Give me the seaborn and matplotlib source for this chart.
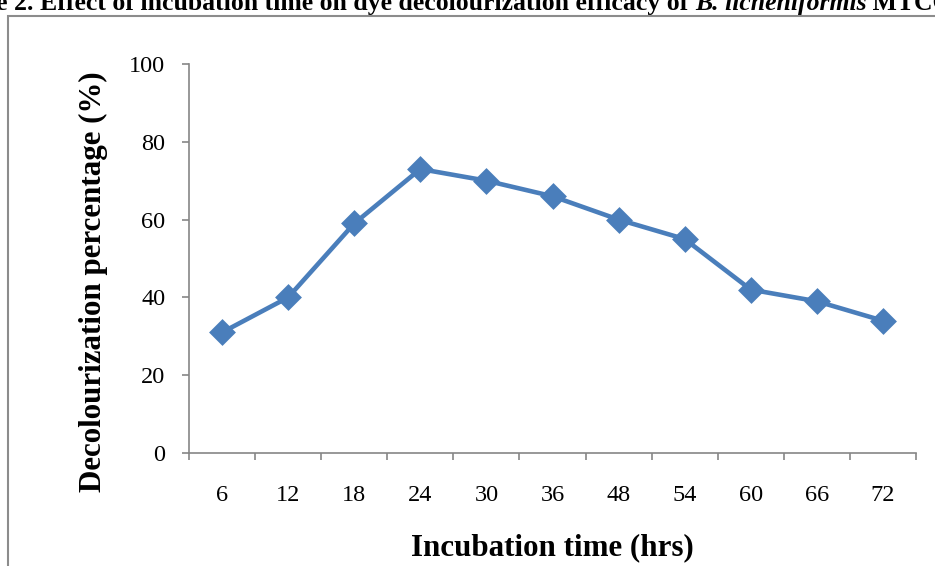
import matplotlib
matplotlib.use("Agg")
import matplotlib.pyplot as plt
import seaborn as sns
import pandas as pd
import numpy as np
from matplotlib.patches import Rectangle

# ---- data ----
hours = ["6", "12", "18", "24", "30", "36", "48", "54", "60", "66", "72"]
decolourization = [31, 40, 59, 73, 70, 66, 60, 55, 42, 39, 34]
y_ticks = [0, 20, 40, 60, 80, 100]

title_head = "Figure 2. "
title_main = "Effect of incubation time on dye decolourization efficacy of "
title_species = "B. licheniformis"
title_tail = " MTCC"
x_label = "Incubation time (hrs)"
y_label = "Decolourization percentage (%)"

sns.set_theme(style="white")
plt.rcParams['font.family'] = ['Liberation Serif', 'DejaVu Serif']

W, H = 935, 566
fig = plt.figure(figsize=(W / 100, H / 100), dpi=100)
ax = fig.add_axes([189 / W, 1 - 453 / H, (916 - 189) / W, (453 - 64) / H])

df = pd.DataFrame({"hours": hours, "value": decolourization})
line_color = "#4A7EBB"
sns.pointplot(data=df, x="hours", y="value", order=hours, color=line_color,
              markers="D", linestyles="-", markersize=11, linewidth=3.3, ax=ax,
              errorbar=None)

ax.set_xlim(-0.5, len(hours) - 0.5)
ax.set_ylim(0, 100)
ax.set_yticks(y_ticks)

grey = "#868686"
for side in ["top", "right"]:
    ax.spines[side].set_visible(False)
for side in ["left", "bottom"]:
    ax.spines[side].set_color(grey)
    ax.spines[side].set_linewidth(1.2)

ax.tick_params(axis="y", which="major", direction="out", length=5, width=1.2,
               color=grey, labelsize=17.5, pad=12, left=True, labelcolor="black")
ax.tick_params(axis="x", which="major", length=0, labelsize=17.5, pad=23,
               labelcolor="black")
ax.set_xticks(np.arange(-0.5, len(hours) + 0.5, 1), minor=True)
ax.tick_params(axis="x", which="minor", direction="out", length=5, width=1.2,
               color=grey, bottom=True)
ax.grid(False)

ax.set_xlabel(x_label, fontsize=22.3, fontweight="bold", color="black")
ax.set_ylabel(y_label, fontsize=22.3, fontweight="bold", color="black")
ax.xaxis.set_label_coords(0.5, -0.205)
ax.yaxis.set_label_coords(-0.112, 0.44)

# outer border (partially cropped)
fig.add_artist(Rectangle((8 / W, -0.1), 1.2, 1 - 16 / H + 0.1,
                         transform=fig.transFigure, fill=False,
                         edgecolor="#8c8c8c", linewidth=1.5, clip_on=False))

# cropped title
tsize = 18.5
t0 = fig.text(40 / W, 1 - 10 / H, title_head, ha="right", va="baseline",
              fontsize=tsize, fontweight="bold", color="black")
t1 = ax.annotate(title_main, xy=(1, 0), xycoords=t0, va="bottom", ha="left",
                 fontsize=tsize, fontweight="bold", color="black",
                 annotation_clip=False)
t2 = ax.annotate(title_species, xy=(1, 0), xycoords=t1, va="bottom", ha="left",
                 fontsize=tsize, fontweight="bold", fontstyle="italic",
                 color="black", annotation_clip=False)
t3 = ax.annotate(title_tail, xy=(1, 0), xycoords=t2, va="bottom", ha="left",
                 fontsize=tsize, fontweight="bold", color="black",
                 annotation_clip=False)

fig.savefig("out.png", dpi=100)
